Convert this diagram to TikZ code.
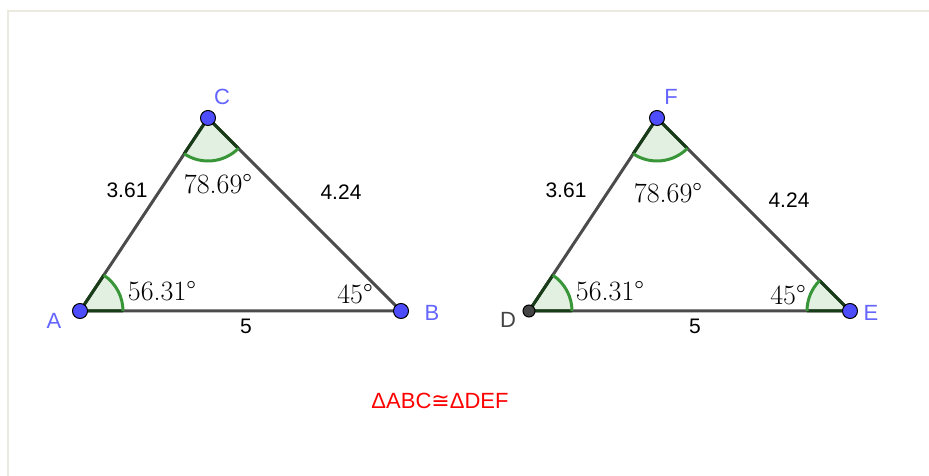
\documentclass[tikz,border=0pt]{standalone}
\usepackage{fontspec}
\newfontfamily\labelfont{Liberation Sans}
\newfontfamily\symbolfont{DejaVu Sans}
\definecolor{ptblue}{RGB}{77,77,255}
\definecolor{lblblue}{RGB}{100,100,255}
\definecolor{ptgray}{RGB}{68,68,68}
\definecolor{sidegray}{RGB}{75,75,75}
\definecolor{arcgreen}{RGB}{56,150,56}
\definecolor{sectfill}{RGB}{226,240,226}
\definecolor{sectedge}{RGB}{24,60,24}
\definecolor{framecol}{RGB}{236,233,222}
\begin{document}
\begin{tikzpicture}[
  x=1pt, y=1pt,
  side/.style={draw=sidegray, line width=3pt, line join=round},
  sector/.style={fill=sectfill},
  radius line/.style={draw=sectedge, line width=3pt},
  arcline/.style={draw=arcgreen, line width=3pt},
  pt/.style={circle, draw=black, line width=1pt, fill=ptblue, minimum size=15pt, inner sep=0pt},
  ptlabel/.style={text=lblblue, font=\labelfont\fontsize{22}{26}\selectfont},
  len/.style={font=\labelfont\fontsize{21}{25}\selectfont},
  ang/.style={font=\fontsize{28}{32}\selectfont}
]
  \useasboundingbox (0,0) rectangle (929,476);
  \draw[framecol, line width=2pt] (8,0) -- (8,465) -- (929,465);

  \coordinate (A) at (80,165);
  \coordinate (B) at (401,165);
  \coordinate (C) at (208,358);
  \coordinate (D) at (529,165);
  \coordinate (E) at (850,165);
  \coordinate (F) at (657,358);

  \fill[sector] (A) -- ++(0:43) arc[start angle=0, end angle=56.31, radius=43] -- cycle;
  \fill[sector] (C) -- ++(236.31:43) arc[start angle=236.31, end angle=315, radius=43] -- cycle;
  \fill[sector] (D) -- ++(0:43) arc[start angle=0, end angle=56.31, radius=43] -- cycle;
  \fill[sector] (F) -- ++(236.31:43) arc[start angle=236.31, end angle=315, radius=43] -- cycle;
  \fill[sector] (E) -- ++(135:43) arc[start angle=135, end angle=180, radius=43] -- cycle;

  \draw[side] (A) -- (B) -- (C) -- cycle;
  \draw[side] (D) -- (E) -- (F) -- cycle;

  \draw[radius line] (A) -- ++(0:43) (A) -- ++(56.31:43);
  \draw[radius line] (C) -- ++(236.31:43) (C) -- ++(315:43);
  \draw[radius line] (D) -- ++(0:43) (D) -- ++(56.31:43);
  \draw[radius line] (F) -- ++(236.31:43) (F) -- ++(315:43);
  \draw[radius line] (E) -- ++(135:43) (E) -- ++(180:43);

  \draw[arcline] (A) ++(0:43) arc[start angle=0, end angle=56.31, radius=43];
  \draw[arcline] (C) ++(236.31:43) arc[start angle=236.31, end angle=315, radius=43];
  \draw[arcline] (D) ++(0:43) arc[start angle=0, end angle=56.31, radius=43];
  \draw[arcline] (F) ++(236.31:43) arc[start angle=236.31, end angle=315, radius=43];
  \draw[arcline] (E) ++(135:43) arc[start angle=135, end angle=180, radius=43];

  \node[pt] (pA) at (A) {};
  \node[pt] (pB) at (B) {};
  \node[pt] (pC) at (C) {};
  \node[pt, fill=ptgray, minimum size=12pt] (pD) at (D) {};
  \node[pt] (pE) at (E) {};
  \node[pt] (pF) at (F) {};

  \node[ptlabel] (lA) at (54,155) {A};
  \node[ptlabel] (lB) at (432,163) {B};
  \node[ptlabel] (lC) at (222,379) {C};
  \node[ptlabel, text=ptgray] (lD) at (508,156) {D};
  \node[ptlabel] (lE) at (871,163) {E};
  \node[ptlabel] (lF) at (671,379) {F};

  \node[len] (ac) at (127,286) {3.61};
  \node[len] (bc) at (341,284) {4.24};
  \node[len] (ab) at (246,150) {5};
  \node[len] (df) at (566,286) {3.61};
  \node[len] (ef) at (789,276) {4.24};
  \node[len] (de) at (695,150) {5};

  \node[ang] (angA) at (162,185) {56.31°};
  \node[ang] (angB) at (355,182) {45°};
  \node[ang] (angC) at (218,292) {78.69°};
  \node[ang] (angD) at (610,185) {56.31°};
  \node[ang] (angE) at (788,181) {45°};
  \node[ang] (angF) at (668,283) {78.69°};

  \node[text=red, font=\labelfont\fontsize{22}{26}\selectfont] (cong) at (440,75)
    {ΔABC{\symbolfont ≅}ΔDEF};
\end{tikzpicture}
\end{document}
